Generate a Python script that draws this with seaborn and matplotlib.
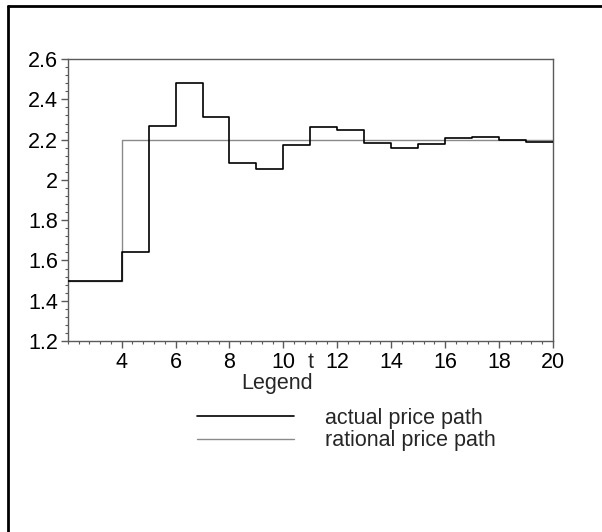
import numpy as np
import pandas as pd
import matplotlib
matplotlib.use("Agg")
import matplotlib.pyplot as plt
from matplotlib.ticker import MultipleLocator, FormatStrFormatter
from matplotlib.transforms import blended_transform_factory
from matplotlib.lines import Line2D
import seaborn as sns

# Price paths by period t
t = [2, 3, 4, 5, 6, 7, 8, 9, 10, 11, 12, 13, 14, 15, 16, 17, 18, 19, 20]
actual_price = [1.50, 1.50, 1.64, 2.27, 2.48, 2.31, 2.085, 2.054, 2.175, 2.264,
                2.246, 2.185, 2.158, 2.178, 2.206, 2.211, 2.199, 2.188, 2.188]
rational_price = [1.50, 1.50, 2.198, 2.198, 2.198, 2.198, 2.198, 2.198, 2.198, 2.198,
                  2.198, 2.198, 2.198, 2.198, 2.198, 2.198, 2.198, 2.198, 2.198]
x_ticks = [4, 6, 8, 10, 12, 14, 16, 18, 20]
series_labels = ["actual price path", "rational price path"]

sns.set_style("white")
plt.rcParams["font.family"] = ["Liberation Sans", "DejaVu Sans"]
FS = 15.5
MAJOR_LEN = 5
X_PAD = 3

fig = plt.figure(figsize=(6.02, 5.32), dpi=100)
ax = fig.add_axes([0.1125, 0.359, 0.8061, 0.530])

df_actual = pd.DataFrame({"t": t, "price": actual_price})
df_rational = pd.DataFrame({"t": t, "price": rational_price})

sns.lineplot(data=df_rational, x="t", y="price", ax=ax, color="#8a8a8a",
             linewidth=1.0, drawstyle="steps-post", zorder=2)
sns.lineplot(data=df_actual, x="t", y="price", ax=ax, color="black",
             linewidth=1.2, drawstyle="steps-post", zorder=3)

ax.set_xlim(2, 20)
ax.set_ylim(1.2, 2.6)
ax.set_xticks(x_ticks)
ax.xaxis.set_minor_locator(MultipleLocator(0.4))
ax.yaxis.set_major_locator(MultipleLocator(0.2))
ax.yaxis.set_minor_locator(MultipleLocator(0.04))
ax.yaxis.set_major_formatter(FormatStrFormatter("%g"))
ax.set_xlabel("")
ax.set_ylabel("")

spine_color = "#5a5a5a"
for s in ax.spines.values():
    s.set_visible(True)
    s.set_color(spine_color)
    s.set_linewidth(1.0)

ax.tick_params(axis="both", which="major", direction="out", length=MAJOR_LEN, width=1,
               color=spine_color, labelsize=FS, labelcolor="black", pad=2)
ax.tick_params(axis="x", which="major", pad=X_PAD)
ax.tick_params(axis="both", which="minor", direction="out", length=2.5, width=0.8,
               color=spine_color)
ax.tick_params(axis="x", which="both", bottom=True, top=False)
ax.tick_params(axis="y", which="both", left=True, right=False)

# axis title "t" sits on the tick-label row, between 10 and 12
trans = blended_transform_factory(ax.transData, ax.transAxes)
ax.annotate("t", xy=(11, 0), xycoords=trans, xytext=(0, -(MAJOR_LEN + X_PAD)),
            textcoords="offset points", ha="center", va="top", fontsize=FS)

# legend block below the axes
fig.text(277 / 602, 1 - 384 / 532, "Legend", ha="center", va="center", fontsize=FS)
handles = [Line2D([], [], color="black", linewidth=1.2),
           Line2D([], [], color="#8a8a8a", linewidth=1.0)]
fig.legend(handles, series_labels, loc="upper left",
           bbox_to_anchor=(197 / 602, 1 - 408 / 532), frameon=False,
           fontsize=FS, handlelength=97 / 21.5, handletextpad=31 / 21.5,
           labelspacing=0.05, borderpad=0, borderaxespad=0)

# outer frame (left and top edges)
fig.add_artist(Line2D([8 / 602, 8 / 602], [0, 1 - 6 / 532], color="black", linewidth=2,
                      transform=fig.transFigure))
fig.add_artist(Line2D([8 / 602, 1], [1 - 6 / 532, 1 - 6 / 532], color="black", linewidth=2,
                      transform=fig.transFigure))

fig.savefig("out.png", dpi=100)
